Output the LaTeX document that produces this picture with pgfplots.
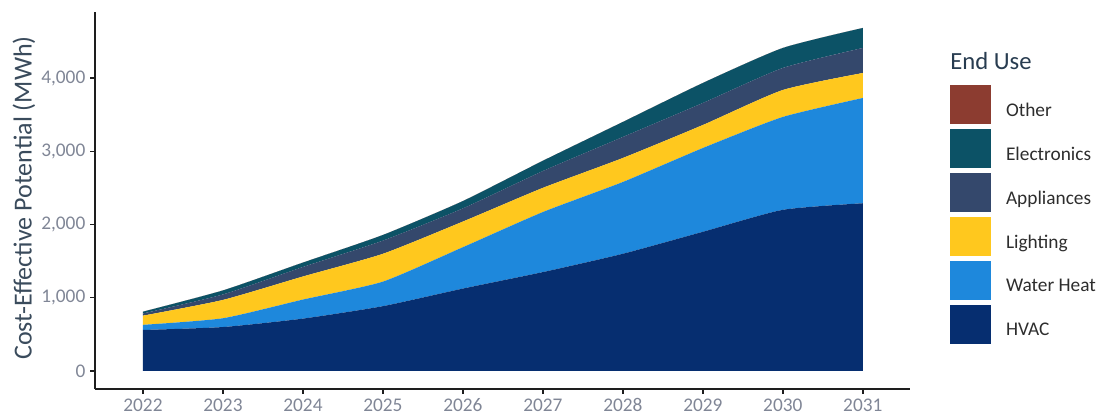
\documentclass[border=0pt]{standalone}
\usepackage{fontspec}
\setmainfont{Carlito}
\usepackage{pgfplots}
\pgfplotsset{compat=1.18}
\usepackage{pgfplotstable}
\definecolor{hvac}{RGB}{6,46,112}
\definecolor{wh}{RGB}{30,136,220}
\definecolor{light}{RGB}{255,200,30}
\definecolor{app}{RGB}{52,72,108}
\definecolor{elec}{RGB}{12,82,102}
\definecolor{other}{RGB}{140,60,48}
\definecolor{ticklab}{RGB}{128,134,150}
\definecolor{ylab}{RGB}{58,75,92}
\definecolor{legtext}{RGB}{45,45,45}
\definecolor{legtitle}{RGB}{40,60,80}
\definecolor{axline}{RGB}{30,30,30}

\pgfplotstableread{
year hvac wh light app elec other
2022 560 70 125 30 25 0
2023 600 120 250 75 55 0
2024 715 260 315 130 60 0
2025 885 335 380 180 77 0
2026 1125 565 350 180 100 0
2027 1350 820 330 230 140 0
2028 1600 980 328 287 205 0
2029 1900 1144 314 301 273 0
2030 2200 1268 368 301 273 0
2031 2290 1437 341 342 273 0
}\data

\begin{document}
\begin{tikzpicture}
\path[use as bounding box] (0pt,0pt) rectangle (826.5pt,313.5pt);
\begin{axis}[
  at={(71.25pt,21.75pt)}, anchor=south west,
  scale only axis, width=611.25pt, height=282.75pt,
  xmin=2021.4, xmax=2031.59, ymin=-246, ymax=4901,
  axis lines*=left,
  axis line style={axline, line width=1.1pt},
  tick align=outside,
  major tick length=3.75pt,
  tick style={axline, line width=1.1pt},
  xtick={2022,2023,...,2031},
  ytick={0,1000,2000,3000,4000},
  /pgf/number format/assume math mode=true,
  xticklabel style={/pgf/number format/1000 sep={}},
  yticklabel style={/pgf/number format/1000 sep={,}},
  ticklabel style={font=\fontsize{14.5}{16}\selectfont, text=ticklab},
  stack plots=y,
  reverse legend,
  legend style={at={(1.0491,0.8064)}, anchor=north west, draw=none, fill=none,
    inner sep=0pt, outer sep=0pt, row sep=3.75pt, column sep=11.25pt,
    nodes={inner sep=0pt}, font=\fontsize{14.5}{16}\selectfont, text=legtext},
  legend cell align=left,
  legend image code/.code={\path[#1] (0pt,-10.2pt) rectangle (30.75pt,19.05pt);},
  every axis plot/.append style={smooth, tension=0.35},
]
\addplot[fill=hvac, draw=none] table[x=year,y=hvac]{\data} \closedcycle;
\addlegendentry{HVAC}
\addplot[fill=wh, draw=none] table[x=year,y=wh]{\data} \closedcycle;
\addlegendentry{Water Heat}
\addplot[fill=light, draw=none] table[x=year,y=light]{\data} \closedcycle;
\addlegendentry{Lighting}
\addplot[fill=app, draw=none] table[x=year,y=app]{\data} \closedcycle;
\addlegendentry{Appliances}
\addplot[fill=elec, draw=none] table[x=year,y=elec]{\data} \closedcycle;
\addlegendentry{Electronics}
\addplot[fill=other, draw=none] table[x=year,y=other]{\data} \closedcycle;
\addlegendentry{Other}
\end{axis}
\node[rotate=90, anchor=center, text=ylab, font=\fontsize{19.5}{22}\selectfont] at (18pt,165pt) {Cost-Effective Potential (MWh)};
\node[anchor=west, inner sep=0pt, text=legtitle, font=\fontsize{18.5}{21}\selectfont] at (712.5pt,267.75pt) {End Use};
\end{tikzpicture}
\end{document}
